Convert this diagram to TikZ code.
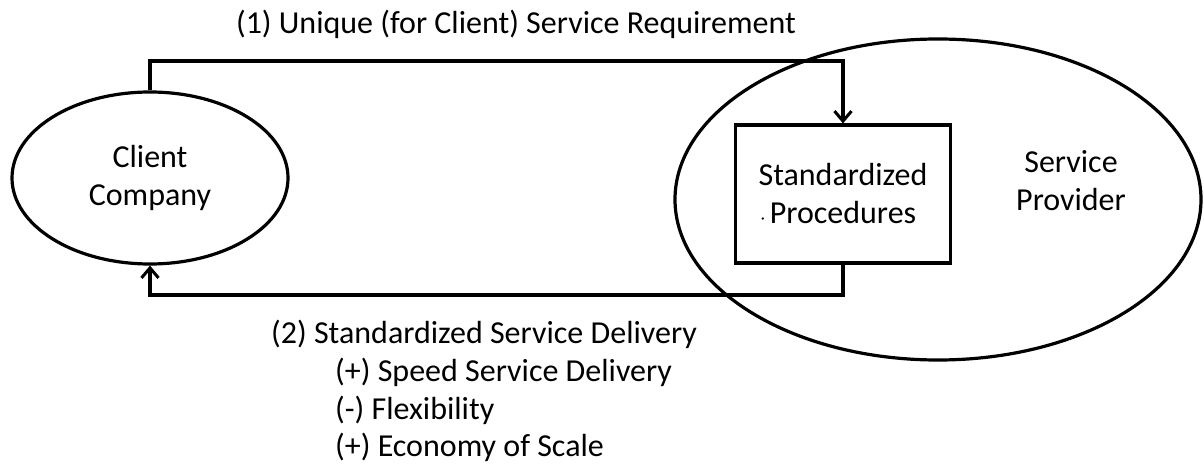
\documentclass[tikz,border=0pt]{standalone}
\usepackage{fontspec}
\setmainfont{Carlito}
\usetikzlibrary{shapes.geometric,arrows.meta}
\begin{document}
\begin{tikzpicture}[x=1pt,y=-1pt,
  lbl/.style={font=\fontsize{32}{38}\selectfont, inner sep=0pt, align=center},
  oval/.style={draw, ellipse, line width=3.2pt, inner sep=0pt},
  procbox/.style={draw, rectangle, line width=3.2pt, inner sep=0pt},
  conn/.style={line width=3.2pt, -{Straight Barb[length=10pt,width=17pt,line width=3pt]}}]
\useasboundingbox (0,0) rectangle (1204,465);
\fill[white] (0,0) rectangle (1204,465);
% ellipses and box
\node[oval, minimum width=276pt, minimum height=172pt, lbl, draw] (client) at (150,178) {Client\\Company};
\node[oval, minimum width=526pt, minimum height=321pt] (provider) at (938,199.5) {};
\node[lbl] (providertext) at (1071,181) {Service\\Provider};
\node[procbox, lbl, draw, minimum width=215pt, minimum height=138pt] (proc) at (843,194)
  {Standardized\\\llap{{\fontsize{16}{16}\selectfont ·}\hspace{5pt}}Procedures};
% connectors
\coordinate (tr) at (843,61);
\coordinate (br) at (843,295);
\draw[conn] (client.north) |- (tr) -- (proc.north);
\draw[conn] (proc.south) -- (br) -| (client.south);
% labels
\node[lbl] (req) at (516,24) {(1) Unique (for Client) Service Requirement};
\node[lbl, anchor=west] (deliv) at (271,334) {(2) Standardized Service Delivery};
\node[lbl, anchor=west] (speed) at (335,372) {(+) Speed Service Delivery};
\node[lbl, anchor=west] (flex) at (335,410) {(-) Flexibility};
\node[lbl, anchor=west] (econ) at (335,447) {(+) Economy of Scale};
\end{tikzpicture}
\end{document}
